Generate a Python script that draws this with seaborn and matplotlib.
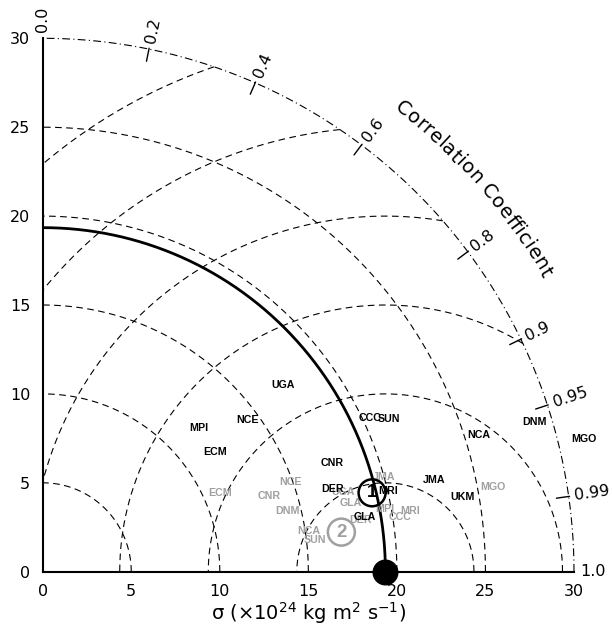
import numpy as np
import pandas as pd
import matplotlib
matplotlib.use("Agg")
import matplotlib.pyplot as plt
import seaborn as sns

# ---------------- data ----------------
ref_std = 19.35
std_ticks = [0, 5, 10, 15, 20, 25, 30]
corr_ticks = [0.0, 0.2, 0.4, 0.6, 0.8, 0.9, 0.95, 0.99, 1.0]
corr_tick_labels = ["0.0", "0.2", "0.4", "0.6", "0.8", "0.9", "0.95", "0.99", "1.0"]
std_circles = [5, 10, 15, 20, 25]
rms_circles = [5, 10, 15, 20, 25, 30]

models_1 = ["UGA", "MPI", "NCE", "ECM", "CCC", "SUN", "CNR", "DER", "MRI", "GLA",
            "DNM", "MGO", "NCA", "JMA", "UKM"]
std_1 = [17.16, 11.93, 14.36, 11.84, 20.41, 21.34, 17.47, 16.99, 20.01, 18.44,
         29.00, 31.48, 25.81, 22.68, 24.06]
corr_1 = [0.7914, 0.7367, 0.8050, 0.8217, 0.9064, 0.9157, 0.9370, 0.9617, 0.9740, 0.9860,
          0.9569, 0.9714, 0.9548, 0.9740, 0.9846]

models_2 = ["JMA", "ECM", "NCE", "CNR", "DNM", "UGA", "GLA", "MPI", "MRI", "CCC",
            "DER", "NCA", "SUN", "MGO"]
std_2 = [19.99, 10.96, 14.86, 13.50, 14.24, 17.54, 17.80, 19.62, 21.05, 20.43,
         18.17, 15.18, 15.46, 25.87]
corr_2 = [0.9636, 0.9143, 0.9407, 0.9490, 0.9713, 0.9669, 0.9760, 0.9836, 0.9868, 0.9887,
          0.9873, 0.9888, 0.9932, 0.9830]

mean_labels = ["1", "2"]
mean_std = [19.12, 17.01]
mean_corr = [0.9727, 0.9914]

GRAY = "#a0a0a0"

# ---------------- helpers ----------------
def to_xy(s, c):
    s = np.asarray(s, float)
    th = np.arccos(np.asarray(c, float))
    return s * np.cos(th), s * np.sin(th)

sns.set_style("white")
plt.rcParams["font.family"] = ["DejaVu Sans"]
for k in ["text.color", "axes.labelcolor", "xtick.color", "ytick.color", "axes.edgecolor"]:
    plt.rcParams[k] = "black"

fig = plt.figure(figsize=(6.12, 6.38), dpi=100)
ax = fig.add_axes([42.7 / 612, (638 - 571.7) / 638, (574 - 42.7) / 612, (571.7 - 38.3) / 638])
ax.set_xlim(0, 30)
ax.set_ylim(0, 30)
RMAX = std_ticks[-1]

dash = (0, (6, 4))
th = np.linspace(0, np.pi / 2, 600)
for r in std_circles:
    ax.plot(r * np.cos(th), r * np.sin(th), color="black", lw=0.8, ls=dash, clip_on=False, zorder=1)
ax.plot(RMAX * np.cos(th), RMAX * np.sin(th), color="black", lw=0.8,
        ls=(0, (7, 3, 1, 3)), clip_on=False, zorder=1)

phi = np.linspace(0, np.pi, 3000)
for r in rms_circles:
    x = ref_std + r * np.cos(phi)
    y = r * np.sin(phi)
    m = (x >= 0) & (x ** 2 + y ** 2 <= RMAX ** 2)
    ax.plot(np.where(m, x, np.nan), np.where(m, y, np.nan), color="black", lw=0.8,
            ls=dash, clip_on=False, zorder=1)

# reference std arc
ax.plot(ref_std * np.cos(th), ref_std * np.sin(th), color="black", lw=2.0, zorder=2)

# correlation ticks and labels
for c, lab in zip(corr_ticks, corr_tick_labels):
    t = np.arccos(c)
    if 0.0 < c < 1.0:
        ax.plot([29.3 * np.cos(t), 30.05 * np.cos(t)], [29.3 * np.sin(t), 30.05 * np.sin(t)],
                color="black", lw=1.0, clip_on=False)
    rr = 30.35
    ax.text(rr * np.cos(t), rr * np.sin(t), lab, rotation=np.degrees(t), rotation_mode="anchor",
            ha="left", va="center", fontsize=11.5, clip_on=False)

# curved title "Correlation Coefficient"
title = "Correlation Coefficient"
fs = 14
renderer = fig.canvas.get_renderer()
def txt_width(s):
    tt = ax.text(0, 0, s, fontsize=fs)
    w = tt.get_window_extent(renderer).width
    tt.remove()
    return w
widths = []
for ch in title:
    if ch == " ":
        widths.append(txt_width("n n") - txt_width("nn"))
    else:
        widths.append(txt_width(ch))
px_per_unit = (574 - 42.7) / 30.0
R = 33.0
Rpx = R * px_per_unit
theta_c = np.radians(41.5)
W = sum(widths) * 1.04
cum = 0.0
for ch, w in zip(title, widths):
    w = w * 1.04
    tpos = theta_c + (W / 2 - (cum + w / 2)) / Rpx
    cum += w
    if ch == " ":
        continue
    ax.text(R * np.cos(tpos), R * np.sin(tpos), ch, fontsize=fs, rotation=np.degrees(tpos) - 90,
            rotation_mode="anchor", ha="center", va="center", clip_on=False)

# model labels
x2, y2 = to_xy(std_2, corr_2)
for name, xx, yy in zip(models_2, x2, y2):
    ax.text(xx, yy, name, color=GRAY, fontsize=7.7, fontweight="bold", family="Liberation Sans",
            ha="center", va="center", zorder=3)
x1, y1 = to_xy(std_1, corr_1)
for name, xx, yy in zip(models_1, x1, y1):
    ax.text(xx, yy, name, color="black", fontsize=7.7, fontweight="bold", family="Liberation Sans",
            ha="center", va="center", zorder=4)

# ensemble means
xm, ym = to_xy(mean_std, mean_corr)
for lab, xx, yy, col in zip(mean_labels, xm, ym, ["black", GRAY]):
    ax.scatter([xx], [yy], s=377, facecolors="none", edgecolors=col, linewidths=1.8, zorder=5)
    ax.text(xx, yy, lab, color=col, fontsize=13.5, fontweight="bold", family="Liberation Sans",
            ha="center", va="center", zorder=5)

# reference point
ref_df = pd.DataFrame({"std": [ref_std], "y": [0.0]})
sns.scatterplot(data=ref_df, x="std", y="y", s=300, color="black", edgecolor="black",
                ax=ax, clip_on=False, zorder=6, legend=False)

# axes
sns.despine(ax=ax)
for sp in ["left", "bottom"]:
    ax.spines[sp].set_linewidth(1.5)
    ax.spines[sp].set_color("black")
ax.set_xticks(std_ticks)
ax.set_yticks(std_ticks)
ax.set_xticklabels([str(v) for v in std_ticks])
ax.set_yticklabels([str(v) for v in std_ticks])
ax.tick_params(direction="out", length=7, width=1.2, labelsize=11.5, pad=2,
               color="black", labelcolor="black")
ax.set_xlabel("σ (×10$^{24}$ kg m$^{2}$ s$^{-1}$)", fontsize=14, labelpad=1, color="black")
ax.set_ylabel("")

fig.savefig("out.png", dpi=100)
